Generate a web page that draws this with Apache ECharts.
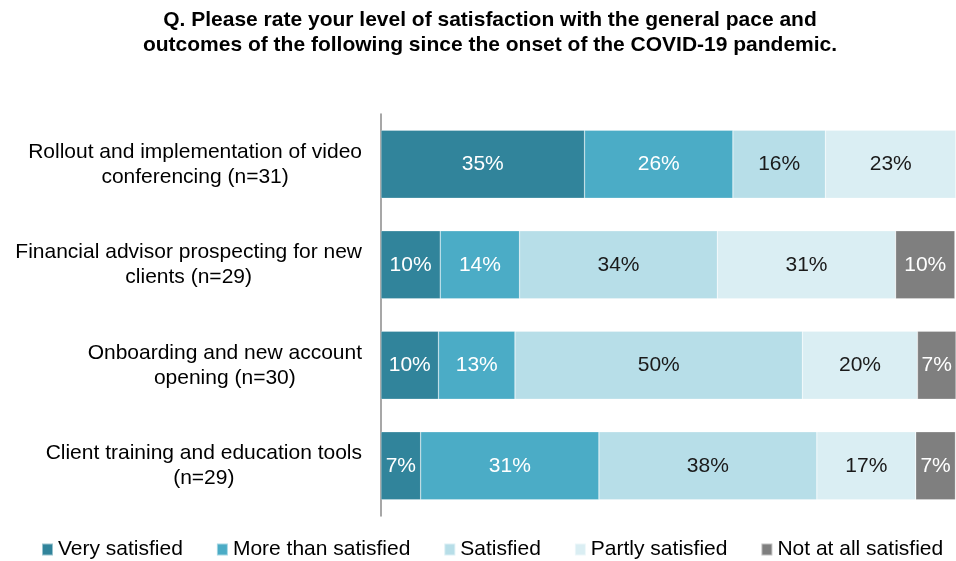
<!DOCTYPE html>
<html>
<head>
<meta charset="utf-8">
<script src="https://cdn.jsdelivr.net/npm/echarts@6/dist/echarts.min.js"></script>
<style>
html,body{margin:0;padding:0;background:#fff;}
#chart{width:956px;height:561px;}
</style>
</head>
<body>
<div id="chart"></div>
<script>
const categories = [
  'Rollout and implementation of video\nconferencing (n=31)',
  'Financial advisor prospecting for new\nclients (n=29)',
  'Onboarding and new account\nopening (n=30)',
  'Client training and education tools\n(n=29)'
];
const seriesNames = ['Very satisfied', 'More than satisfied', 'Satisfied', 'Partly satisfied', 'Not at all satisfied'];
const verySatisfied = [35.4, 10.3, 10.0, 6.9];
const moreThanSatisfied = [25.8, 13.8, 13.3, 31.0];
const satisfied = [16.1, 34.4, 50.0, 37.9];
const partlySatisfied = [22.7, 31.0, 20.0, 17.2];
const notAtAllSatisfied = [0, 10.3, 6.7, 6.9];

const colors = ['#31849B', '#4BACC6', '#B7DEE8', '#DAEEF3', '#7F7F7F'];
const labelColors = ['#ffffff', '#ffffff', '#1a1a1a', '#1a1a1a', '#ffffff'];
const values = [verySatisfied, moreThanSatisfied, satisfied, partlySatisfied, notAtAllSatisfied];

const chart = echarts.init(document.getElementById('chart'));
const font = '"Liberation Sans", Arial, sans-serif';

chart.setOption({
  animation: false,
  textStyle: { fontFamily: font },
  title: {
    text: 'Q. Please rate your level of satisfaction with the general pace and\noutcomes of the following since the onset of the COVID-19 pandemic.',
    left: 490,
    textAlign: 'center',
    top: 8,
    padding: 0,
    textStyle: { fontFamily: font, fontSize: 21, fontWeight: 'bold', color: '#000', lineHeight: 25 }
  },
  legend: {
    bottom: 1,
    left: 41,
    padding: 0,
    itemWidth: 11,
    itemHeight: 12,
    itemGap: 33,
    icon: 'rect',
    textStyle: { fontFamily: font, fontSize: 21, color: '#000' },
    data: seriesNames
  },
  grid: { left: 381, right: 0, top: 114, bottom: 45, containLabel: false },
  xAxis: {
    type: 'value', min: 0, max: 100, show: false
  },
  yAxis: {
    type: 'category',
    inverse: true,
    data: categories,
    axisLine: { show: true, lineStyle: { color: '#8a8a8a', width: 1.5 } },
    axisTick: { show: false },
    axisLabel: {
      align: 'right',
      margin: 19,
      fontFamily: font,
      fontSize: 21,
      lineHeight: 25,
      color: '#000',
      rich: {
        c: { fontFamily: font, fontSize: 21, lineHeight: 25, color: '#000', align: 'center' }
      },
      formatter: value => value.split('\n').map(line => '{c|' + line + '}').join('\n')
    }
  },
  series: seriesNames.map((name, i) => ({
    name,
    type: 'bar',
    stack: 'total',
    barWidth: 68,
    itemStyle: { color: colors[i], borderColor: 'rgba(255,255,255,0.5)', borderWidth: 0.5 },
    label: {
      show: true,
      position: 'inside',
      fontFamily: font,
      fontSize: 21,
      color: labelColors[i],
      formatter: p => p.value > 0 ? Math.round(p.value) + '%' : ''
    },
    data: values[i]
  }))
});
</script>
</body>
</html>
